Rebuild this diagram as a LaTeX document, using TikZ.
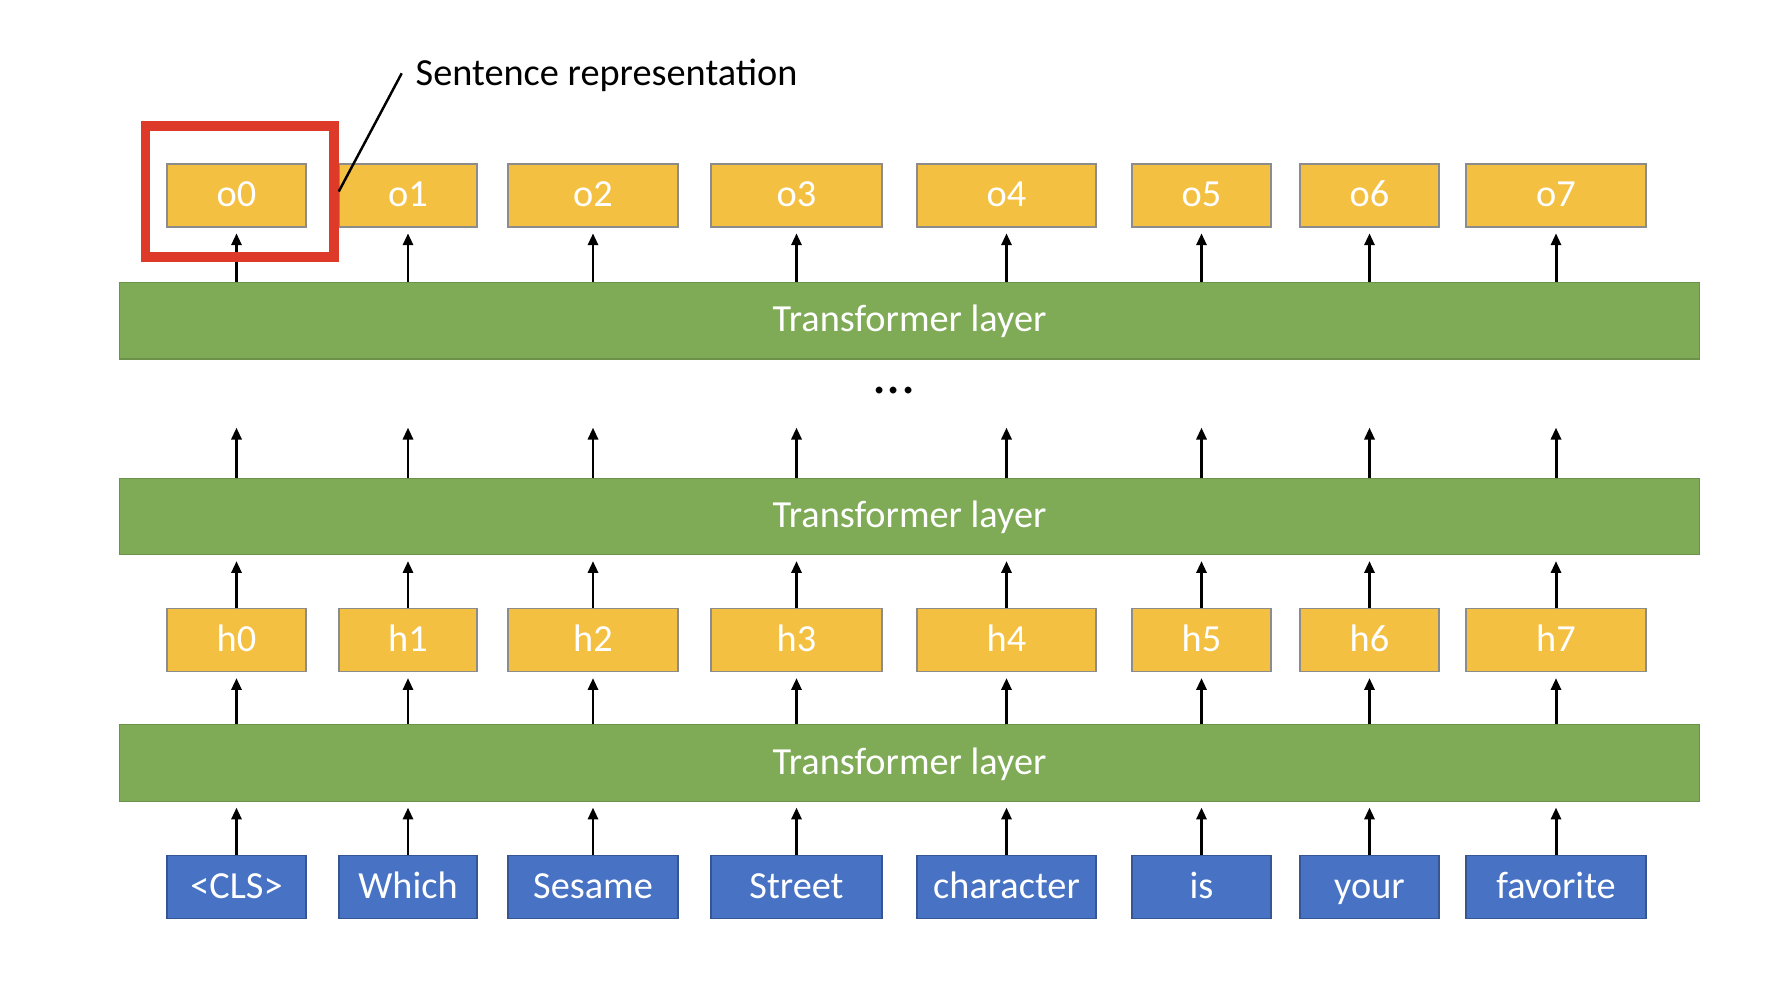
\documentclass[tikz,border=0pt]{standalone}
\usepackage{fontspec}
\setmainfont{Carlito}
\usetikzlibrary{arrows.meta}

\definecolor{vecfill}{RGB}{244,192,66}
\definecolor{tokfill}{RGB}{72,114,196}
\definecolor{layfill}{RGB}{127,171,86}
\definecolor{selred}{RGB}{222,58,42}

\begin{document}
\begin{tikzpicture}[
    every node/.style={font=\fontsize{10.9}{13}\selectfont},
    vec/.style={draw=black!45, fill=vecfill, text=white, line width=0.4pt,
                minimum height=0.63cm, inner sep=0pt, text height=0.8em, text depth=0.17em},
    tok/.style={vec, draw=tokfill!75!black, fill=tokfill},
    layer/.style={draw=layfill!85!black, fill=layfill, text=white, line width=0.4pt,
                  minimum width=15.80cm, minimum height=0.765cm, inner sep=0pt,
                  text height=0.8em, text depth=0.17em},
    up/.style={-{Triangle[length=1.2mm,width=1.0mm]}, line width=0.85pt, shorten >=0.55mm},
  ]
  \useasboundingbox (0,0) rectangle (17.72,-10.06);

  \node[layer] (l3) at (9.095,-3.2075) {Transformer layer};
  \node[layer] (l2) at (9.095,-5.165 ) {Transformer layer};
  \node[layer] (l1) at (9.095,-7.63  ) {Transformer layer};
  \node[font=\fontsize{16}{16}\selectfont] (dots) at (8.94,-3.91) {...};
  \coordinate (gap) at (0,-4.22);

  % outputs
  \node[vec, minimum width=1.39cm] (o0) at ( 2.365,-1.955) {o0};
  \node[vec, minimum width=1.38cm] (o1) at ( 4.080,-1.955) {o1};
  \node[vec, minimum width=1.70cm] (o2) at ( 5.930,-1.955) {o2};
  \node[vec, minimum width=1.71cm] (o3) at ( 7.965,-1.955) {o3};
  \node[vec, minimum width=1.79cm] (o4) at (10.065,-1.955) {o4};
  \node[vec, minimum width=1.39cm] (o5) at (12.015,-1.955) {o5};
  \node[vec, minimum width=1.39cm] (o6) at (13.695,-1.955) {o6};
  \node[vec, minimum width=1.80cm] (o7) at (15.560,-1.955) {o7};

  % hidden states
  \node[vec, minimum width=1.39cm] (h0) at ( 2.365,-6.4025) {h0};
  \node[vec, minimum width=1.38cm] (h1) at ( 4.080,-6.4025) {h1};
  \node[vec, minimum width=1.70cm] (h2) at ( 5.930,-6.4025) {h2};
  \node[vec, minimum width=1.71cm] (h3) at ( 7.965,-6.4025) {h3};
  \node[vec, minimum width=1.79cm] (h4) at (10.065,-6.4025) {h4};
  \node[vec, minimum width=1.39cm] (h5) at (12.015,-6.4025) {h5};
  \node[vec, minimum width=1.39cm] (h6) at (13.695,-6.4025) {h6};
  \node[vec, minimum width=1.80cm] (h7) at (15.560,-6.4025) {h7};

  % tokens
  \node[tok, minimum width=1.39cm] (t0) at ( 2.365,-8.87) {<CLS>};
  \node[tok, minimum width=1.38cm] (t1) at ( 4.080,-8.87) {Which};
  \node[tok, minimum width=1.70cm] (t2) at ( 5.930,-8.87) {Sesame};
  \node[tok, minimum width=1.71cm] (t3) at ( 7.965,-8.87) {Street};
  \node[tok, minimum width=1.79cm] (t4) at (10.065,-8.87) {character};
  \node[tok, minimum width=1.39cm] (t5) at (12.015,-8.87) {is};
  \node[tok, minimum width=1.39cm] (t6) at (13.695,-8.87) {your};
  \node[tok, minimum width=1.80cm] (t7) at (15.560,-8.87) {favorite};

  \path[up] (l3.north -| o0) edge (o0)  (l3.north -| o1) edge (o1)
            (l3.north -| o2) edge (o2)  (l3.north -| o3) edge (o3)
            (l3.north -| o4) edge (o4)  (l3.north -| o5) edge (o5)
            (l3.north -| o6) edge (o6)  (l3.north -| o7) edge (o7);
  \path[up] (l2.north -| o0) edge (gap -| o0)  (l2.north -| o1) edge (gap -| o1)
            (l2.north -| o2) edge (gap -| o2)  (l2.north -| o3) edge (gap -| o3)
            (l2.north -| o4) edge (gap -| o4)  (l2.north -| o5) edge (gap -| o5)
            (l2.north -| o6) edge (gap -| o6)  (l2.north -| o7) edge (gap -| o7);
  \path[up] (h0) edge (l2.south -| h0)  (h1) edge (l2.south -| h1)
            (h2) edge (l2.south -| h2)  (h3) edge (l2.south -| h3)
            (h4) edge (l2.south -| h4)  (h5) edge (l2.south -| h5)
            (h6) edge (l2.south -| h6)  (h7) edge (l2.south -| h7);
  \path[up] (l1.north -| h0) edge (h0)  (l1.north -| h1) edge (h1)
            (l1.north -| h2) edge (h2)  (l1.north -| h3) edge (h3)
            (l1.north -| h4) edge (h4)  (l1.north -| h5) edge (h5)
            (l1.north -| h6) edge (h6)  (l1.north -| h7) edge (h7);
  \path[up] (t0) edge (l1.south -| t0)  (t1) edge (l1.south -| t1)
            (t2) edge (l1.south -| t2)  (t3) edge (l1.south -| t3)
            (t4) edge (l1.south -| t4)  (t5) edge (l1.south -| t5)
            (t6) edge (l1.south -| t6)  (t7) edge (l1.south -| t7);

  % sentence representation
  \node[draw=selred, line width=0.095cm, minimum width=1.885cm, minimum height=1.31cm,
        inner sep=0pt] (sel) at (2.3975,-1.915) {};
  \node[anchor=base west, inner sep=0pt] (sent) at (4.15,-0.85) {Sentence representation};
  \coordinate (lead) at ([shift={(-0.133,0.117)}]sent.base west);
  \draw[line width=0.7pt] (lead) -- (sel.east);
\end{tikzpicture}
\end{document}
